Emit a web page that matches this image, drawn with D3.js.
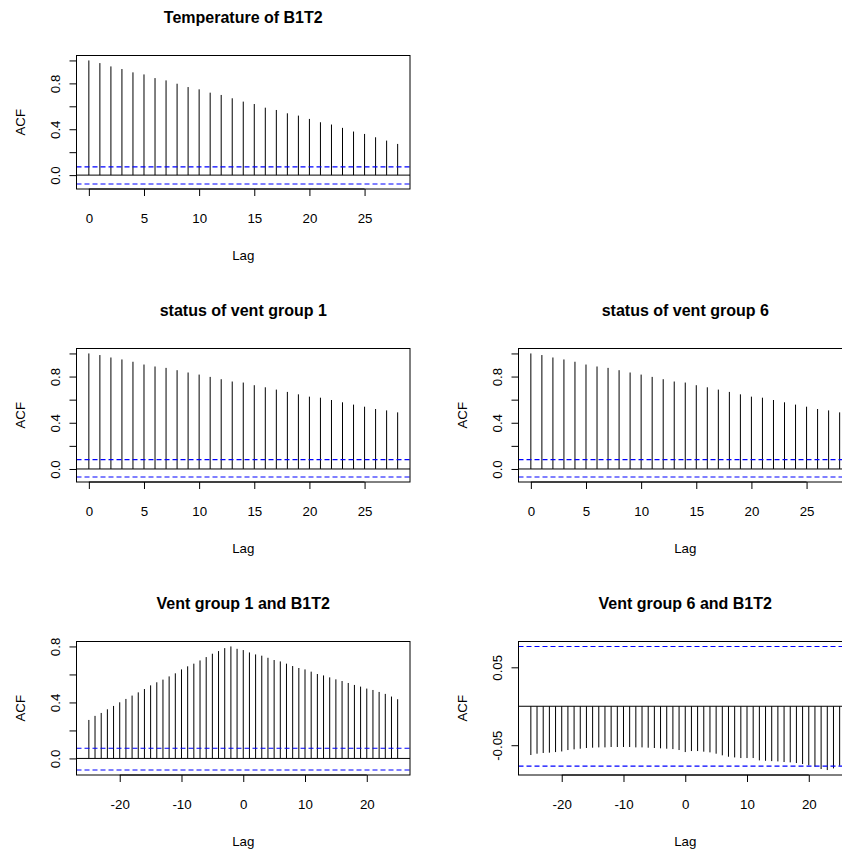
<!DOCTYPE html>
<html>
<head>
<meta charset="utf-8">
<script src="https://cdn.jsdelivr.net/npm/d3@7"></script>
<style>
  html, body { margin: 0; padding: 0; background: #fff; }
  svg { display: block; }
  text { font-family: "Liberation Sans", Arial, Helvetica, sans-serif; fill: #000; }
</style>
</head>
<body>
<svg id="chart" width="842" height="850"></svg>
<script>
// ---------------- data ----------------
const lagsAuto = [0,1,2,3,4,5,6,7,8,9,10,11,12,13,14,15,16,17,18,19,20,21,22,23,24,25,26,27,28];
const lagsCross = [-25,-24,-23,-22,-21,-20,-19,-18,-17,-16,-15,-14,-13,-12,-11,-10,-9,-8,-7,-6,-5,-4,-3,-2,-1,
                   0,1,2,3,4,5,6,7,8,9,10,11,12,13,14,15,16,17,18,19,20,21,22,23,24,25];

const acfTempB1T2 = [1.000,0.977,0.948,0.925,0.896,0.878,0.846,0.826,0.797,0.768,0.748,0.719,0.699,0.670,0.641,
                     0.620,0.588,0.568,0.539,0.519,0.490,0.461,0.441,0.412,0.380,0.359,0.330,0.301,0.272];
const acfVent1 = [1.000,0.986,0.965,0.948,0.928,0.904,0.887,0.875,0.855,0.835,0.817,0.797,0.777,0.757,0.748,
                  0.725,0.707,0.687,0.667,0.646,0.626,0.617,0.597,0.577,0.557,0.539,0.519,0.507,0.490];
const acfVent6 = [1.000,0.986,0.965,0.948,0.928,0.904,0.887,0.875,0.855,0.835,0.817,0.797,0.777,0.757,0.748,
                  0.725,0.707,0.687,0.667,0.646,0.626,0.617,0.597,0.577,0.557,0.539,0.519,0.507,0.490];
const ccfVent1B1T2 = [0.275,0.304,0.325,0.351,0.375,0.401,0.425,0.449,0.472,0.496,0.522,0.544,0.563,0.586,0.608,
                      0.636,0.658,0.677,0.700,0.724,0.748,0.767,0.788,0.800,0.783,
                      0.774,0.757,0.743,0.734,0.719,0.703,0.693,0.677,0.660,0.646,0.636,0.620,0.603,0.593,0.579,
                      0.565,0.553,0.539,0.525,0.513,0.499,0.489,0.475,0.461,0.442,0.423];
const ccfVent6B1T2 = [-0.0626,-0.0609,-0.0600,-0.0596,-0.0588,-0.0580,-0.0562,-0.0553,-0.0545,-0.0536,-0.0532,
                      -0.0528,-0.0528,-0.0523,-0.0523,-0.0523,-0.0523,-0.0528,-0.0528,-0.0532,-0.0536,-0.0540,
                      -0.0545,-0.0550,-0.0562,
                      -0.0588,-0.0575,-0.0575,-0.0583,-0.0592,-0.0609,-0.0630,-0.0648,-0.0657,-0.0665,-0.0665,
                      -0.0665,-0.0695,-0.0700,-0.0704,-0.0708,-0.0716,-0.0720,-0.0729,-0.0742,-0.0759,-0.0776,
                      -0.0806,-0.0819,-0.0798,-0.0764];

const titles = ["Temperature of B1T2", "status of vent group 1", "status of vent group 6",
                "Vent group 1 and B1T2", "Vent group 6 and B1T2"];
const ciUpper = [0.072, 0.081, 0.081, 0.073, 0.0768];
const ciLower = [-0.078, -0.070, -0.070, -0.083, -0.0768];
const xTicksAuto = [0,5,10,15,20,25];
const xTicksCross = [-20,-10,0,10,20];
const yTicksAuto = [0,0.2,0.4,0.6,0.8,1.0];
const yLabelsAuto = [0,0.4,0.8];
const yTicksCross1 = [0,0.2,0.4,0.6,0.8];
const yTicksCross6 = [-0.05,0.05];

// ---------------- layout ----------------
const svg = d3.select("#chart");
const boxLeft = [76.5, 518.5];
const boxTop = [55.5, 348.5, 641.5];
const W = 333.5, H = 133.5;
const fmtMinus = f => d => d3.format(f)(d).replace("\u2212", "-");

function panel(opt) {
  const x0 = boxLeft[opt.col], y0 = boxTop[opt.row];
  const g = svg.append("g").attr("transform", `translate(${x0},${y0})`);

  const xmin = d3.min(opt.lags), xmax = d3.max(opt.lags);
  const xr = xmax - xmin;
  const x = d3.scaleLinear().domain([xmin - 0.04 * xr, xmax + 0.04 * xr]).range([0, W]);
  const lo = Math.min(opt.ciLo, d3.min(opt.values));
  const hi = Math.max(opt.ciHi, d3.max(opt.values));
  const yr = hi - lo;
  const y = d3.scaleLinear().domain([lo - 0.04 * yr, hi + 0.04 * yr]).range([H, 0]);

  // title
  g.append("text").attr("x", W / 2).attr("y", -33)
    .attr("text-anchor", "middle").attr("font-weight", "bold").attr("font-size", "16px")
    .text(opt.title);

  // spikes
  g.append("g").selectAll("line").data(opt.lags).join("line")
    .attr("x1", d => x(d)).attr("x2", d => x(d))
    .attr("y1", y(0)).attr("y2", (d, i) => y(opt.values[i]))
    .attr("stroke", "#000").attr("stroke-width", 1);

  // zero line
  g.append("line").attr("x1", 0).attr("x2", W).attr("y1", y(0)).attr("y2", y(0))
    .attr("stroke", "#000").attr("stroke-width", 1);

  // confidence lines
  [opt.ciHi, opt.ciLo].forEach(c => {
    g.append("line").attr("x1", 0).attr("x2", W).attr("y1", y(c)).attr("y2", y(c))
      .attr("stroke", "#0000ff").attr("stroke-width", 1.1).attr("stroke-dasharray", "5,3");
  });

  // box
  g.append("rect").attr("x", 0).attr("y", 0).attr("width", W).attr("height", H)
    .attr("fill", "none").attr("stroke", "#000").attr("stroke-width", 1);

  // x axis
  const xa = g.append("g").attr("transform", `translate(0,${H})`)
    .call(d3.axisBottom(x).tickValues(opt.xTicks).tickSize(7).tickFormat(fmtMinus("d")));
  xa.select(".domain").remove();
  xa.selectAll("line").attr("stroke", "#000");
  xa.selectAll("text").attr("y", 34).attr("dy", null)
    .attr("font-size", "13.3px").attr("font-family", null).style("fill", "#000");
  g.append("line").attr("x1", x(opt.xTicks[0])).attr("x2", x(opt.xTicks[opt.xTicks.length - 1]))
    .attr("y1", H).attr("y2", H).attr("stroke", "#000");

  // y axis
  const ya = g.append("g")
    .call(d3.axisLeft(y).tickValues(opt.yTicks).tickSize(7)
      .tickFormat(d => opt.yLabels.some(v => Math.abs(v - d) < 1e-9) ? fmtMinus(opt.yFmt)(d) : ""));
  ya.select(".domain").remove();
  ya.selectAll("line").attr("stroke", "#000");
  ya.selectAll("text").attr("x", null).attr("dy", null)
    .attr("transform", "translate(-16.7,0) rotate(-90)")
    .attr("text-anchor", "middle").attr("font-size", "13.3px").attr("font-family", null).style("fill", "#000");
  g.append("line").attr("y1", y(opt.yTicks[0])).attr("y2", y(opt.yTicks[opt.yTicks.length - 1]))
    .attr("x1", 0).attr("x2", 0).attr("stroke", "#000");

  // axis titles
  g.append("text").attr("x", W / 2).attr("y", H + 71).attr("text-anchor", "middle")
    .attr("font-size", "13.3px").text("Lag");
  g.append("text").attr("transform", `translate(-51.7,${H / 2}) rotate(-90)`)
    .attr("text-anchor", "middle").attr("font-size", "13.3px").text("ACF");
}

panel({ row: 0, col: 0, title: titles[0], lags: lagsAuto, values: acfTempB1T2, ciHi: ciUpper[0], ciLo: ciLower[0],
        xTicks: xTicksAuto, yTicks: yTicksAuto, yLabels: yLabelsAuto, yFmt: ".1f" });
panel({ row: 1, col: 0, title: titles[1], lags: lagsAuto, values: acfVent1, ciHi: ciUpper[1], ciLo: ciLower[1],
        xTicks: xTicksAuto, yTicks: yTicksAuto, yLabels: yLabelsAuto, yFmt: ".1f" });
panel({ row: 1, col: 1, title: titles[2], lags: lagsAuto, values: acfVent6, ciHi: ciUpper[2], ciLo: ciLower[2],
        xTicks: xTicksAuto, yTicks: yTicksAuto, yLabels: yLabelsAuto, yFmt: ".1f" });
panel({ row: 2, col: 0, title: titles[3], lags: lagsCross, values: ccfVent1B1T2, ciHi: ciUpper[3], ciLo: ciLower[3],
        xTicks: xTicksCross, yTicks: yTicksCross1, yLabels: yLabelsAuto, yFmt: ".1f" });
panel({ row: 2, col: 1, title: titles[4], lags: lagsCross, values: ccfVent6B1T2, ciHi: ciUpper[4], ciLo: ciLower[4],
        xTicks: xTicksCross, yTicks: yTicksCross6, yLabels: yTicksCross6, yFmt: ".2f" });
</script>
</body>
</html>
